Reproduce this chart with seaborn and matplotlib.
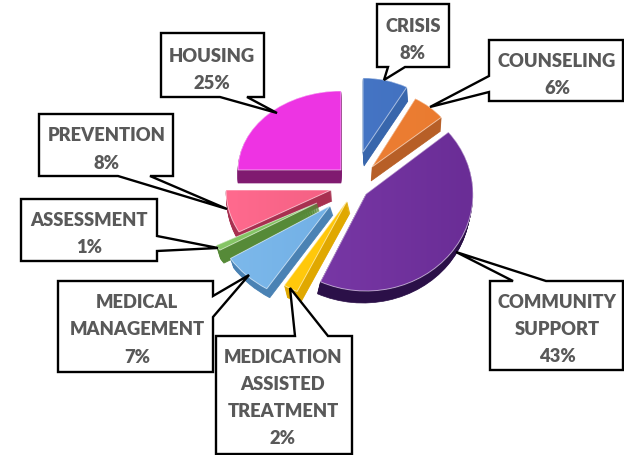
import numpy as np
import matplotlib
matplotlib.use("Agg")
import matplotlib.pyplot as plt
from matplotlib.patches import PathPatch, Polygon
from matplotlib.transforms import Affine2D
from matplotlib.colors import LinearSegmentedColormap
import seaborn as sns

# ---- data ----
categories = ["CRISIS", "COUNSELING", "COMMUNITY\nSUPPORT", "MEDICATION\nASSISTED\nTREATMENT",
              "MEDICAL\nMANAGEMENT", "ASSESSMENT", "PREVENTION", "HOUSING"]
values = [8, 6, 43, 2, 7, 1, 8, 25]

# ---- style ----
left_colors = ["#4A79CA", "#EE8035", "#7D3BAB", "#FFCB10", "#7EBAEC", "#86C666", "#FF6A8E", "#EF33E4"]
right_colors = ["#4070BE", "#EA7B30", "#6A2D96", "#FFC300", "#66A6DF", "#7DBE5E", "#E95679", "#EB38E2"]
depth_colors = ["#3866AC", "#B75F27", "#2B1048", "#E0A800", "#4A82B4", "#568A38", "#A83050", "#801A70"]

# ---- layout in pixels: exploded apex and radii per slice ----
apex_x = [363, 372, 366, 347, 330, 317, 331, 341]
apex_y = [153, 168, 195, 202, 207, 204, 191, 171]
radius_x = [91, 90, 107, 117, 118, 115, 105, 103]
radius_y = [74, 78, 97, 100, 98, 88, 87, 79]
depth_py = [14, 14, 12, 12, 9, 13, 11, 13]
depth_sx = [1, -1, -3, 3, 3, 4, 1, 0]
draw_order = [0, 1, 7, 6, 5, 4, 3, 2]

box_outlines = [
    [(377, 5), (449, 5), (449, 68), (405, 68), (384, 81), (388, 68), (377, 68)],
    [(489, 41), (623, 41), (623, 102), (489, 102), (489, 93), (430, 108), (489, 77)],
    [(490, 282), (513, 282), (456, 253), (546, 282), (623, 282), (623, 371), (490, 371)],
    [(216, 337), (295, 337), (290, 289), (328, 337), (352, 337), (352, 455), (216, 455)],
    [(58, 282), (213, 282), (213, 297), (249, 276), (213, 318), (213, 373), (58, 373)],
    [(21, 200), (157, 200), (157, 237), (218, 249), (157, 252), (157, 262), (21, 262)],
    [(39, 115), (173, 115), (173, 177), (150, 177), (227, 210), (118, 177), (39, 177)],
    [(161, 34), (264, 34), (264, 98), (247, 98), (277, 114), (220, 98), (161, 98)],
]
label_x = [413, 557, 557, 283, 137, 89, 107, 212]
label_y = [40, 75, 329.5, 398, 330, 234, 149.5, 70]

sns.set_theme(style="white")
plt.rcParams["font.family"] = ["Lato", "DejaVu Sans"]

fig = plt.figure(figsize=(6.24, 4.56), dpi=100, facecolor="white")
ax = fig.add_axes([0, 0, 1, 1])

wedges, _ = ax.pie(values, startangle=90, counterclock=False, colors=sns.color_palette(left_colors),
                   wedgeprops={"linewidth": 0})

for order, i in enumerate(draw_order):
    w = wedges[i]
    base_z = 2 + order * 0.1
    tf = Affine2D().scale(radius_x[i], -radius_y[i]).translate(apex_x[i], apex_y[i]) + ax.transData
    path = w.get_path()
    # extruded side of the 3-D slice
    for step in range(1, depth_py[i] + 1):
        frac = step / depth_py[i]
        side = (Affine2D().scale(radius_x[i], -radius_y[i])
                .translate(apex_x[i] + depth_sx[i] * frac, apex_y[i] + step) + ax.transData)
        ax.add_patch(PathPatch(path, facecolor=depth_colors[i], edgecolor=depth_colors[i], linewidth=0.5,
                               transform=side, zorder=base_z))
    # top face
    w.set_transform(tf)
    w.set_zorder(base_z + 0.01)
    cmap = LinearSegmentedColormap.from_list("g", [left_colors[i], right_colors[i]])
    im = ax.imshow(np.linspace(0, 1, 64).reshape(1, -1), cmap=cmap, aspect="auto",
                   extent=(apex_x[i] - radius_x[i], apex_x[i] + radius_x[i],
                           apex_y[i] + radius_y[i], apex_y[i] - radius_y[i]),
                   zorder=base_z + 0.02, interpolation="bilinear")
    im.set_clip_path(w)
    ax.add_patch(PathPatch(path, facecolor="none", edgecolor="white", alpha=0.55, linewidth=0.7,
                           transform=tf, zorder=base_z + 0.03))

# callouts
for outline, name, val, x, y in zip(box_outlines, categories, values, label_x, label_y):
    ax.add_patch(Polygon(outline, closed=True, facecolor="white", edgecolor="black", linewidth=1.7,
                         joinstyle="miter", zorder=5))
    ax.text(x, y, f"{name}\n{val}%", ha="center", va="center", fontsize=13.2, fontweight="heavy",
            color="#595959", linespacing=1.72, zorder=6)

ax.set_xlim(0, 624)
ax.set_ylim(456, 0)
ax.set_aspect("auto")
ax.axis("off")
fig.savefig("out.png", dpi=100, facecolor="white")
